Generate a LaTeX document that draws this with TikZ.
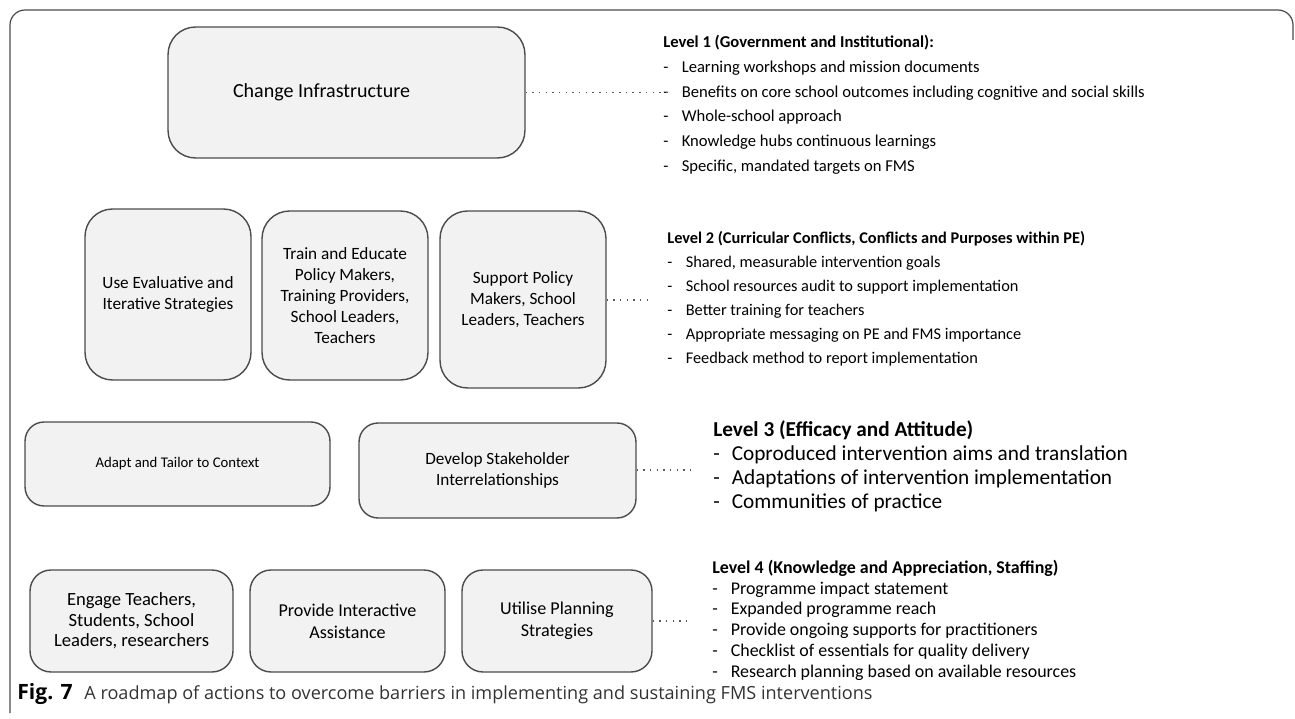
\documentclass[tikz,border=0pt]{standalone}
\usepackage{fontspec}
\setmainfont{Carlito}
\newfontfamily\capfont{Open Sans}
\newcommand{\dashitem}{\makebox[10.5pt][l]{-}}

\begin{document}
\begin{tikzpicture}[
        x=0.02cm, y=-0.02cm,
        action/.style={
            rectangle, draw=black!70, line width=0.8pt, fill=black!5,
            rounded corners=0.55cm, text centered, align=center,
            inner sep=0pt, font=\fontsize{9.8}{12}\selectfont
        },
        link/.style={black!65, line width=0.8pt, dash pattern=on 0.8pt off 3pt},
        levellist/.style={anchor=north west, align=left, inner sep=0pt}
    ]

        % Rahmen
        \useasboundingbox (0,0) rectangle (1295,719);
        \draw[black!70, line width=0.7pt, rounded corners=0.3cm]
            (10,713) -- (10,10) -- (1293,10) -- (1293,40);

        % Level 1
        \node[action, minimum width=7.14cm, minimum height=2.62cm,
              font=\fontsize{11.4}{14}\selectfont] (infra) at (346.5,92.5) {Change Infrastructure\kern1cm};

        % Level 2
        \node[action, minimum width=3.32cm, minimum height=3.42cm] (evaluate) at (168,294.5)
            {Use Evaluative and\\Iterative Strategies};
        \node[action, minimum width=3.32cm, minimum height=3.38cm] (train) at (345,295.5)
            {Train and Educate\\Policy Makers,\\Training Providers,\\School Leaders,\\Teachers};
        \node[action, minimum width=3.32cm, minimum height=3.54cm] (support) at (523,299.5)
            {Support Policy\\Makers, School\\Leaders, Teachers};

        % Level 3
        \node[action, rounded corners=0.38cm, minimum width=6.1cm, minimum height=1.68cm,
              font=\fontsize{8.4}{11}\selectfont] (adapt) at (177.5,464)
            {Adapt and Tailor to Context};
        \node[action, rounded corners=0.38cm, minimum width=5.54cm, minimum height=1.9cm] (develop) at (497.5,470.5)
            {Develop Stakeholder\\Interrelationships};

        % Level 4
        \node[action, rounded corners=0.42cm, minimum width=4.06cm, minimum height=2.04cm,
              font=\fontsize{10.6}{11.7}\selectfont] (engage) at (131.5,621)
            {Engage Teachers,\\Students, School\\Leaders, researchers};
        \node[action, rounded corners=0.42cm, minimum width=3.9cm, minimum height=2.04cm,
              font=\fontsize{10.3}{12.5}\selectfont] (assist) at (347.5,621)
            {Provide Interactive\\Assistance};
        \node[action, rounded corners=0.42cm, minimum width=3.8cm, minimum height=2.04cm,
              font=\fontsize{10.3}{12.5}\selectfont] (planning) at (557,621)
            {Utilise Planning\\Strategies};

        % Listen
        \node[levellist, font=\fontsize{9.45}{14.1}\selectfont] (list1) at (663,35) {
            \textbf{Level 1 (Government and Institutional):}\\
            \dashitem Learning workshops and mission documents\\
            \dashitem Benefits on core school outcomes including cognitive and social skills\\
            \dashitem Whole-school approach\\
            \dashitem Knowledge hubs continuous learnings\\
            \dashitem Specific, mandated targets on FMS
        };
        \node[levellist, font=\fontsize{9.3}{13.6}\selectfont] (list2) at (667,231.5) {
            \textbf{Level 2 (Curricular Conflicts, Conflicts and Purposes within PE)}\\
            \dashitem Shared, measurable intervention goals\\
            \dashitem School resources audit to support implementation\\
            \dashitem Better training for teachers\\
            \dashitem Appropriate messaging on PE and FMS importance\\
            \dashitem Feedback method to report implementation
        };
        \node[levellist, font=\fontsize{12.1}{13.7}\selectfont] (list3) at (713,420.5) {
            \textbf{Level 3 (Efficacy and Attitude)}\\
            \dashitem Coproduced intervention aims and translation\\
            \dashitem Adaptations of intervention implementation\\
            \dashitem Communities of practice
        };
        \node[levellist, font=\fontsize{10.2}{11.9}\selectfont] (list4) at (712,559.5) {
            \textbf{Level 4 (Knowledge and Appreciation, Staffing)}\\
            \dashitem Programme impact statement\\
            \dashitem Expanded programme reach\\
            \dashitem Provide ongoing supports for practitioners\\
            \dashitem Checklist of essentials for quality delivery\\
            \dashitem Research planning based on available resources
        };

        % Punktlinien
        \coordinate (end1) at (670,92.5);
        \coordinate (end2) at (652,300);
        \coordinate (end3) at (695,470);
        \coordinate (end4) at (690,621);
        \draw[link] (infra.east) -- (end1);
        \draw[link] (support.east |- end2) -- (end2);
        \draw[link] (develop.east |- end3) -- (end3);
        \draw[link] (planning.east) -- (end4);

        % Bildunterschrift
        \node[anchor=base west, inner sep=0pt, font=\capfont\fontsize{10.3}{12}\selectfont] (caption) at (17,699)
            {{\fontsize{12}{14}\selectfont\textbf{Fig. 7}}\hspace{0.65em}{\color{black!80}A roadmap of actions to overcome barriers in implementing and sustaining FMS interventions}};

    \end{tikzpicture}
\end{document}
